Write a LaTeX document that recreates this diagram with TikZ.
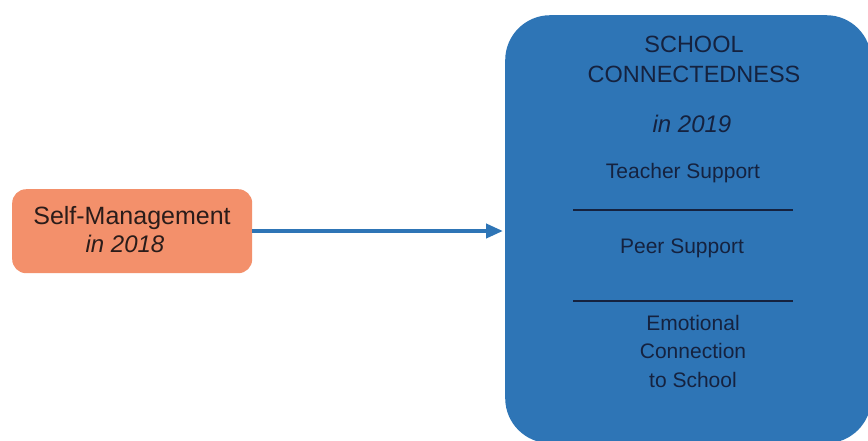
\documentclass[tikz,border=0pt]{standalone}
\usepackage{fontspec}
\setmainfont{Liberation Sans}
\usetikzlibrary{arrows.meta}

\definecolor{panelblue}{HTML}{2E75B6}
\definecolor{boxorange}{HTML}{F3906B}
\definecolor{inknavy}{HTML}{15223F}
\definecolor{inkdark}{HTML}{2A1C1A}

\begin{document}
\begin{tikzpicture}[x=1pt,y=-1pt,
  panel/.style={fill=panelblue, draw=none, rounded corners=45pt,
    minimum width=366pt, minimum height=428pt, anchor=north west, inner sep=0pt},
  predbox/.style={fill=boxorange, draw=none, rounded corners=14pt,
    minimum width=240pt, minimum height=84pt, anchor=north west, inner sep=0pt},
  label/.style={inner sep=0pt, anchor=base, text=inknavy},
  body/.style={label, font=\fontsize{21}{28}\selectfont},
  title/.style={label, font=\fontsize{23.5}{30}\selectfont},
  yeartag/.style={label, font=\fontsize{24}{28}\selectfont\itshape},
  divider/.style={draw=inknavy, line width=1.3pt},
  link/.style={draw=panelblue, line width=4pt,
    -{Triangle[length=17pt, width=14pt]}, shorten >=2pt}
]
\useasboundingbox (0,0) rectangle (868,440);
\fill[white] (0,0) rectangle (868,440);

% outcome panel and predictor box
\node[panel] (outcome) at (505,15) {};
\node[predbox] (predictor) at (12,189) {};

% predictor text
\node[label, text=inkdark, font=\fontsize{25}{28}\selectfont] (selfman) at (132,224) {Self-Management};
\node[label, text=inkdark, font=\fontsize{24}{28}\selectfont\itshape] (y2018) at (125,252) {in 2018};

% outcome heading
\node[title] (school) at (694,52) {SCHOOL};
\node[title] (connect) at (694,82) {CONNECTEDNESS};
\node[yeartag] (y2019) at (692,132) {in 2019};

% components
\node[body] (teacher) at (683,178) {Teacher Support};
\node[body] (peer) at (682,253) {Peer Support};
\node[body] (emo1) at (693,330) {Emotional};
\node[body] (emo2) at (693,358) {Connection};
\node[body] (emo3) at (693,387) {to School};

\coordinate (d1l) at (573,210);
\coordinate (d1r) at (793,210);
\coordinate (d2l) at (573,301);
\coordinate (d2r) at (793,301);
\draw[divider] (d1l) -- (d1r);
\draw[divider] (d2l) -- (d2r);

% predictive path
\draw[link] (predictor.east |- 0,231) -- (outcome.west |- 0,231);
\end{tikzpicture}
\end{document}
